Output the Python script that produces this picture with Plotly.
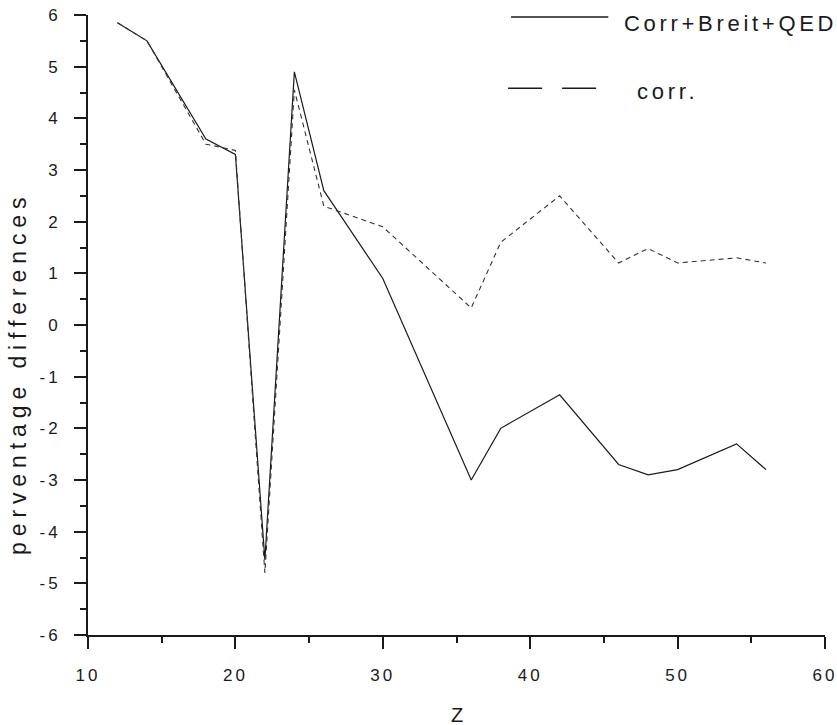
import plotly.graph_objects as go

# Data
z_values = [12, 14, 18, 20, 22, 24, 26, 30, 36, 38, 42, 46, 48, 50, 54, 56]
corr_breit_qed = [5.85, 5.5, 3.6, 3.3, -4.55, 4.9, 2.6, 0.9, -3.0, -2.0, -1.35, -2.7, -2.9, -2.8, -2.3, -2.8]
corr_only = [5.85, 5.5, 3.5, 3.38, -4.8, 4.55, 2.3, 1.9, 0.33, 1.6, 2.5, 1.2, 1.48, 1.2, 1.3, 1.2]

x_ticks = [10, 20, 30, 40, 50, 60]
y_ticks = [-6, -5, -4, -3, -2, -1, 0, 1, 2, 3, 4, 5, 6]

FONT = "Liberation Sans, Arial, sans-serif"
INK = "#1a1a1a"


def spaced(s, px):
    return f'<span style="letter-spacing:{px}px">{s}</span>'


fig = go.Figure()
fig.add_trace(go.Scatter(x=z_values, y=corr_breit_qed, mode="lines", name="Corr+Breit+QED",
                         line=dict(color=INK, width=1.2), showlegend=False))
fig.add_trace(go.Scatter(x=z_values, y=corr_only, mode="lines", name="corr.",
                         line=dict(color="#333333", width=1.1, dash="5px,4px"), showlegend=False))

# manual legend (long samples as in the reference)
fig.add_shape(type="line", xref="paper", yref="paper", x0=0.574, x1=0.706, y0=0.9968, y1=0.9968,
              line=dict(color=INK, width=1.5))
fig.add_shape(type="line", xref="paper", yref="paper", x0=0.570, x1=0.692, y0=0.882, y1=0.882,
              line=dict(color=INK, width=1.5, dash="34px,20px"))
fig.add_annotation(xref="paper", yref="paper", x=0.7246, y=0.9855, xanchor="left", yanchor="middle",
                   text=spaced("Corr+Breit+QED", 3.7), showarrow=False,
                   font=dict(family=FONT, size=22, color=INK))
fig.add_annotation(xref="paper", yref="paper", x=0.742, y=0.876, xanchor="left", yanchor="middle",
                   text=spaced("corr.", 3.7), showarrow=False,
                   font=dict(family=FONT, size=22, color=INK))

# axis titles
fig.add_annotation(xref="paper", yref="paper", x=-0.095, y=0.4226, textangle=-90,
                   xanchor="center", yanchor="middle", showarrow=False,
                   text=spaced("perventage differences", 5.9),
                   font=dict(family=FONT, size=23, color=INK))
fig.add_annotation(xref="paper", yref="paper", x=0.5, y=-0.129,
                   xanchor="center", yanchor="middle", showarrow=False,
                   text="Z", font=dict(family=FONT, size=20, color=INK))

fig.update_xaxes(range=[10, 60], tickvals=x_ticks, ticktext=[spaced(str(v), 3) for v in x_ticks],
                 showgrid=False, zeroline=False, showline=True, linecolor=INK, linewidth=2,
                 ticks="outside", ticklen=12, tickwidth=2, tickcolor=INK, ticklabelstandoff=12,
                 ticklabeloverflow="allow", automargin=False,
                 minor=dict(dtick=5, ticks="outside", ticklen=6, tickwidth=2, tickcolor=INK, showgrid=False),
                 tickfont=dict(family=FONT, size=17, color=INK))
fig.update_yaxes(range=[-6, 6], tickvals=y_ticks, ticktext=[spaced(str(v), 3) for v in y_ticks],
                 showgrid=False, zeroline=False, showline=True, linecolor=INK, linewidth=2,
                 ticks="outside", ticklen=12, tickwidth=2, tickcolor=INK, ticklabelstandoff=10,
                 ticklabeloverflow="allow", automargin=False,
                 minor=dict(dtick=0.5, ticks="outside", ticklen=6, tickwidth=2, tickcolor=INK, showgrid=False),
                 tickfont=dict(family=FONT, size=17, color=INK))

fig.update_layout(width=837, height=725, margin=dict(l=88, r=12, t=15, b=90),
                  plot_bgcolor="white", paper_bgcolor="white", showlegend=False)

fig.write_html("out.html")
